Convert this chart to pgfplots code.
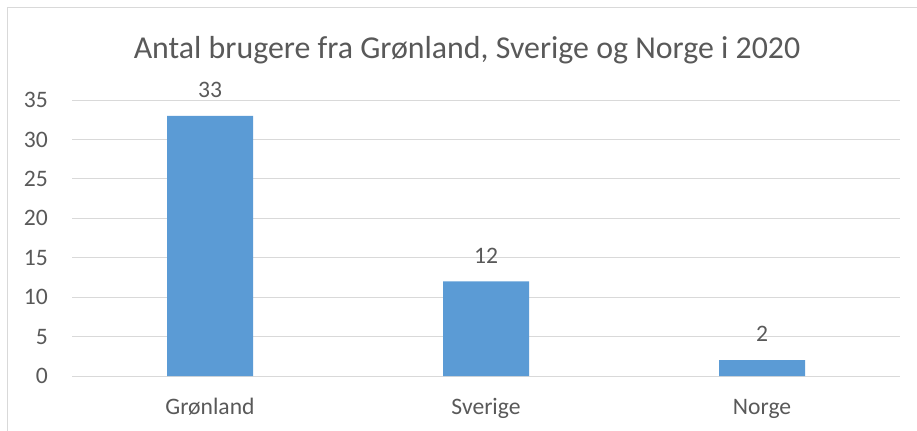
\documentclass[border=0pt]{standalone}
\usepackage{fontspec}
\setmainfont{Carlito}
\usepackage{pgfplots}
\pgfplotsset{compat=1.18}
\definecolor{barblue}{HTML}{5B9BD5}
\definecolor{txtgray}{HTML}{595959}
\definecolor{gridgray}{HTML}{D9D9D9}
\begin{document}
\begin{tikzpicture}
\path[use as bounding box] (0,0) rectangle (687.75pt,-322.5pt);
% chart frame (only top and left edges visible)
\draw[gridgray, line width=0.75pt] (5.25pt,-330pt) -- (5.25pt,-5.25pt) -- (695pt,-5.25pt);
\node[anchor=base, inner sep=0pt, text=txtgray, font=\fontsize{23.9}{28}\selectfont]
  at (350.25pt,-43.5pt) {Antal brugere fra Grønland, Sverige og Norge i 2020};
\begin{axis}[
  at={(54pt,-282pt)}, anchor=south west,
  scale only axis, width=621pt, height=207pt,
  xmin=-0.5, xmax=2.5, ymin=0, ymax=35,
  ytick={0,5,...,35},
  xtick={0,1,2}, xticklabels={Grønland, Sverige, Norge},
  major tick length=0pt,
  axis line style={draw=none},
  ymajorgrids, grid style={gridgray, line width=0.75pt},
  tick label style={font=\fontsize{17.7}{21}\selectfont, text=txtgray},
  yticklabel style={anchor=east, inner sep=0pt, xshift=-18pt},
  xticklabel style={anchor=base, inner sep=0pt, yshift=-28.5pt},
  /pgf/number format/assume math mode=true,
  ybar, bar width=64.5pt,
  nodes near coords,
  every node near coord/.append style={anchor=south, inner sep=0pt, yshift=13.5pt,
    font=\fontsize{17.7}{21}\selectfont, text=txtgray},
  clip=false,
]
\addplot[fill=barblue, draw=none] coordinates {(0,33) (1,12) (2,2)};
\end{axis}
\end{tikzpicture}
\end{document}
